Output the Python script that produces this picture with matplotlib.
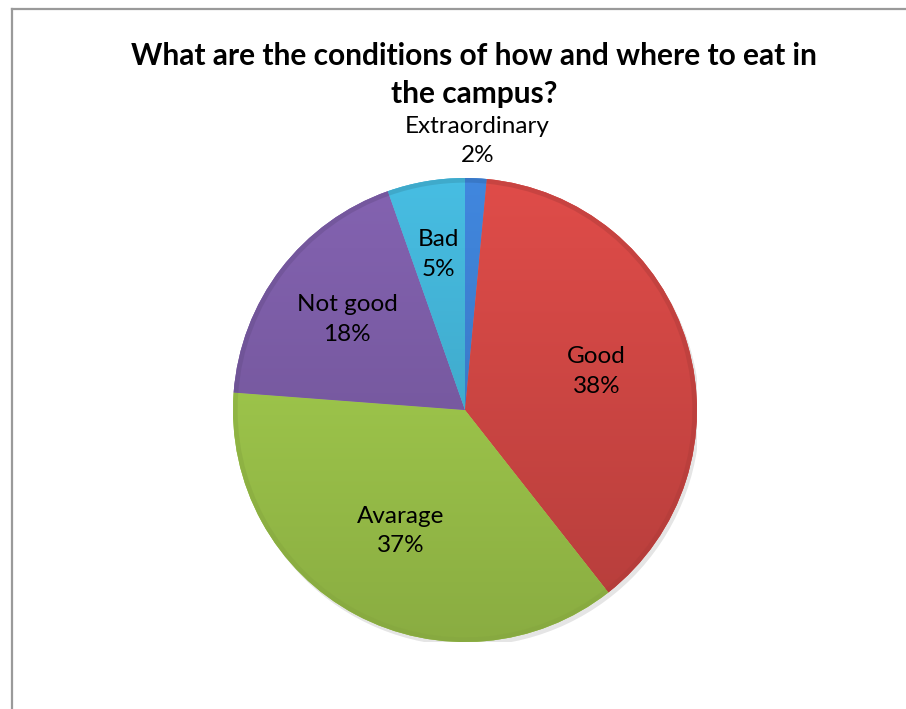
import numpy as np
import matplotlib
matplotlib.use('Agg')
import matplotlib.pyplot as plt
from matplotlib.lines import Line2D
from matplotlib.patches import Circle, Wedge
from matplotlib.colors import to_rgb

# data (percent of answers)
categories = ['Extraordinary', 'Good', 'Avarage', 'Not good', 'Bad']
values = [1.5, 37.9, 36.8, 18.4, 5.4]
colors = ['#3F83D8', '#D94A47', '#A6D04F', '#8060AC', '#45B8DC']
title = 'What are the conditions of how and where to eat in\nthe campus?'

# label radius (fraction of pie radius) for each slice
label_r = [1.16, 0.59, 0.59, 0.64, 0.68]

plt.rcParams['font.family'] = ['Lato', 'DejaVu Sans']

W, H = 906, 709
fig = plt.figure(figsize=(W / 100, H / 100), dpi=100)
fig.patch.set_facecolor('white')

# frame of the chart box (left + top edge only visible)
fig.add_artist(Line2D([11.5 / W, 11.5 / W], [0, 1 - 9 / H], color='#9a9a9a', lw=1.6))
fig.add_artist(Line2D([11.5 / W, 1], [1 - 9 / H, 1 - 9 / H], color='#9a9a9a', lw=1.6))

cx, cy, R = 465, 410, 232
ax = fig.add_axes([(cx - R) / W, (H - cy - R) / H, 2 * R / W, 2 * R / H])

# soft shadow
ax.add_patch(Circle((0.012, -0.018), 1.0, color='#000000', alpha=0.10, lw=0, zorder=0))

wedges, _ = ax.pie(values, colors=colors, startangle=90, counterclock=False,
                   radius=1, wedgeprops=dict(linewidth=0))

# vertical gradient fill clipped to each wedge
yy = np.linspace(1, -1, 300)[:, None] * np.ones((1, 10))
for w, c in zip(wedges, colors):
    base = np.array(to_rgb(c))
    t = (1 - yy) / 2  # 0 at top, 1 at bottom
    img = np.zeros(yy.shape + (3,))
    for k in range(3):
        img[..., k] = base[k] * (1.03 - 0.2 * t)
    img = np.clip(img, 0, 1)
    im = ax.imshow(img, extent=[-1, 1, -1, 1], zorder=2, aspect='auto')
    im.set_clip_path(w)
    w.set_zorder(1)
    # darker rim
    rim = Wedge((0, 0), 1, w.theta1, w.theta2, width=0.02,
                facecolor=base * 0.8, lw=0, alpha=0.45, zorder=3)
    ax.add_patch(rim)

for w, cat, v, r in zip(wedges, categories, values, label_r):
    ang = np.deg2rad((w.theta1 + w.theta2) / 2)
    ax.text(r * np.cos(ang), r * np.sin(ang), '%s\n%.0f%%' % (cat, v),
            ha='center', va='center', fontsize=17.5, linespacing=1.5, zorder=5)

ax.set_xlim(-1, 1)
ax.set_ylim(-1, 1)
ax.axis('off')

fig.text(474 / W, 1 - 42 / H, title, ha='center', va='top', fontsize=21.5,
         fontweight='bold', linespacing=1.45)

fig.savefig('out.png', dpi=100)
